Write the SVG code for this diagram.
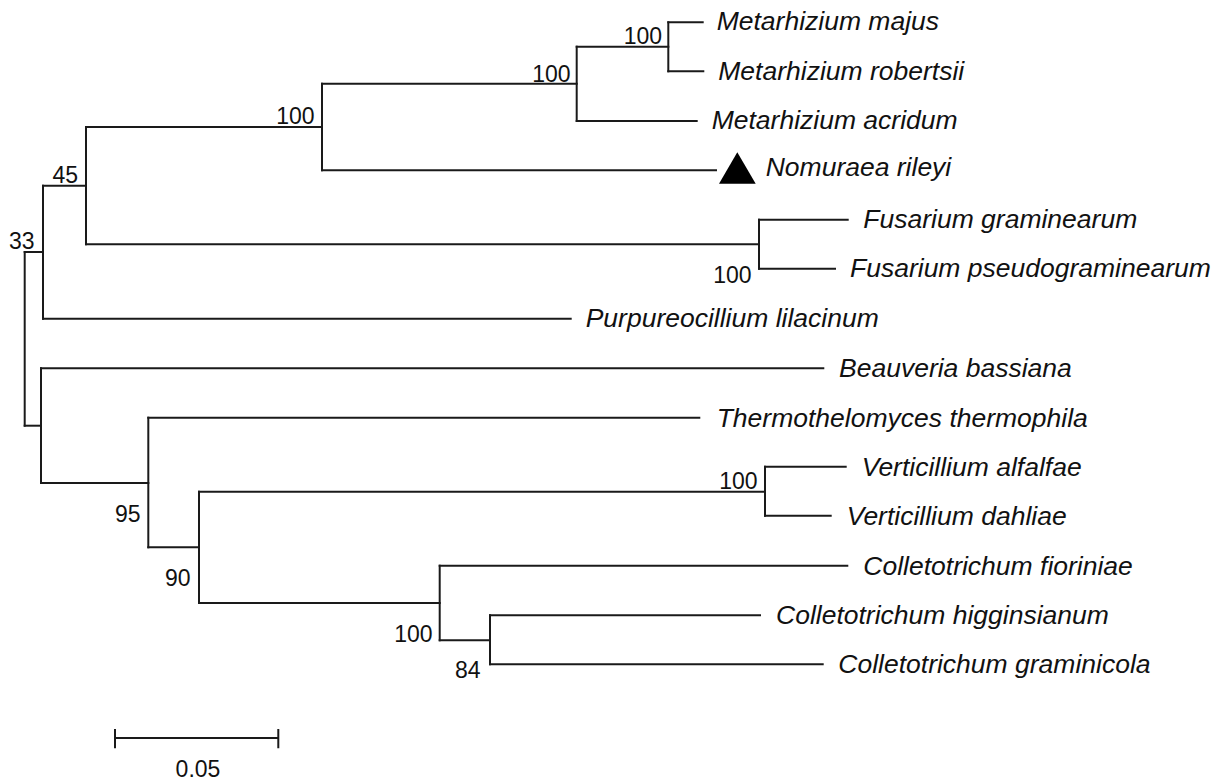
<svg xmlns="http://www.w3.org/2000/svg" width="1225" height="780" viewBox="0 0 1225 780">
<style>
.br{fill:none;stroke:#1a1a1a;stroke-width:2;stroke-linecap:square}
.tx{font-family:"Liberation Sans",Arial,sans-serif;font-style:italic;font-size:26.5px;fill:#111}
.bs{font-family:"Liberation Sans",Arial,sans-serif;font-size:23px;fill:#111;text-anchor:end}
</style>
<rect width="1225" height="780" fill="#fff"/>
<g id="connectors">
<path class="br" d="M24.7,252 V425.7"/>
<path class="br" d="M24.7,252 H43"/>
<path class="br" d="M24.7,425.7 H41"/>
<path class="br" d="M43,185.7 V318.7"/>
<path class="br" d="M43,185.7 H86"/>
<path class="br" d="M43,318.7 H570.7"/>
<path class="br" d="M86,127 V244.3"/>
<path class="br" d="M86,127 H322"/>
<path class="br" d="M86,244.3 H759"/>
<path class="br" d="M322,83.7 V170.3"/>
<path class="br" d="M322,83.7 H576.7"/>
<path class="br" d="M322,170.3 H716"/>
<path class="br" d="M576.7,46.7 V121"/>
<path class="br" d="M576.7,46.7 H668.3"/>
<path class="br" d="M576.7,121 H696.7"/>
<path class="br" d="M668.3,22.3 V71.3"/>
<path class="br" d="M668.3,22.3 H702.7"/>
<path class="br" d="M668.3,71.3 H703.3"/>
<path class="br" d="M759,219.7 V268.7"/>
<path class="br" d="M759,219.7 H847.7"/>
<path class="br" d="M759,268.7 H835"/>
<path class="br" d="M41,368.3 V483"/>
<path class="br" d="M41,368.3 H823.3"/>
<path class="br" d="M41,483 H148.3"/>
<path class="br" d="M148.3,417.7 V547.3"/>
<path class="br" d="M148.3,417.7 H699.3"/>
<path class="br" d="M148.3,547.3 H199"/>
<path class="br" d="M199,491.7 V603"/>
<path class="br" d="M199,491.7 H765"/>
<path class="br" d="M199,603 H439.7"/>
<path class="br" d="M765,466.7 V515.7"/>
<path class="br" d="M765,466.7 H845.7"/>
<path class="br" d="M765,515.7 H830.7"/>
<path class="br" d="M439.7,565.7 V640.3"/>
<path class="br" d="M439.7,565.7 H847.3"/>
<path class="br" d="M439.7,640.3 H490"/>
<path class="br" d="M490,615.3 V664.3"/>
<path class="br" d="M490,615.3 H760"/>
<path class="br" d="M490,664.3 H822.7"/>
</g>
<g id="support">
<text class="bs" x="34.5" y="249.3">33</text>
<text class="bs" x="78" y="182.7">45</text>
<text class="bs" x="314.5" y="124">100</text>
<text class="bs" x="570.5" y="81.7">100</text>
<text class="bs" x="662" y="44.3">100</text>
<text class="bs" x="751.5" y="283.3">100</text>
<text class="bs" x="140.5" y="521.7">95</text>
<text class="bs" x="190.5" y="585.7">90</text>
<text class="bs" x="757.5" y="489">100</text>
<text class="bs" x="432.5" y="641.7">100</text>
<text class="bs" x="480.5" y="678.3">84</text>
</g>
<g id="taxon-m-majus"><text class="tx" x="716.7" y="30">Metarhizium majus</text></g>
<g id="taxon-m-robertsii"><text class="tx" x="718.3" y="80">Metarhizium robertsii</text></g>
<g id="taxon-m-acridum"><text class="tx" x="711.7" y="129.3">Metarhizium acridum</text></g>
<g id="taxon-n-rileyi">
<polygon points="719,183.7 737.3,152.3 755.7,183.7" fill="#000"/>
<text class="tx" x="765.7" y="176">Nomuraea rileyi</text>
</g>
<g id="taxon-f-graminearum"><text class="tx" x="863.3" y="228.3">Fusarium graminearum</text></g>
<g id="taxon-f-pseudograminearum"><text class="tx" x="850" y="277">Fusarium pseudograminearum</text></g>
<g id="taxon-p-lilacinum"><text class="tx" x="585.7" y="327.3">Purpureocillium lilacinum</text></g>
<g id="taxon-b-bassiana"><text class="tx" x="839" y="376.7">Beauveria bassiana</text></g>
<g id="taxon-t-thermophila"><text class="tx" x="716.7" y="426.5">Thermothelomyces thermophila</text></g>
<g id="taxon-v-alfalfae"><text class="tx" x="861.7" y="476">Verticillium alfalfae</text></g>
<g id="taxon-v-dahliae"><text class="tx" x="846.7" y="525">Verticillium dahliae</text></g>
<g id="taxon-c-fioriniae"><text class="tx" x="863.3" y="575">Colletotrichum fioriniae</text></g>
<g id="taxon-c-higginsianum"><text class="tx" x="776" y="624">Colletotrichum higginsianum</text></g>
<g id="taxon-c-graminicola"><text class="tx" x="838.3" y="673.3">Colletotrichum graminicola</text></g>
<g id="scale-bar">
<path class="br" d="M115,738 H278.3 M115,730 V747.3 M278.3,730 V747.3" stroke-linecap="butt"/>
<text font-family="'Liberation Sans',Arial,sans-serif" font-size="23" fill="#111" text-anchor="middle" x="198" y="777">0.05</text>
</g>
</svg>
